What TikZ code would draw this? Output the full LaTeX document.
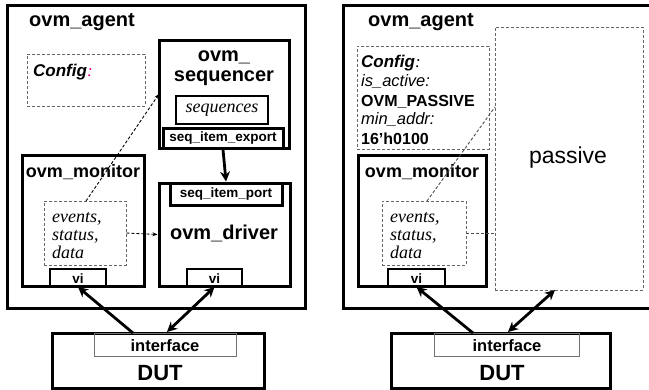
\documentclass[tikz,border=0pt]{standalone}
\usepackage{fontspec}
\setmainfont{Liberation Serif}
\setsansfont{Liberation Sans}
\usetikzlibrary{arrows.meta}
\begin{document}
\begin{tikzpicture}[x=1pt,y=-1pt,
  box/.style={draw, line width=3pt, inner sep=0pt, rectangle},
  midbox/.style={draw, line width=2pt, inner sep=0pt, rectangle},
  dbox/.style={draw=black!60, line width=0.8pt, dash pattern=on 3pt off 2pt, inner sep=0pt, rectangle},
  ibox/.style={draw=black!55, line width=0.8pt, inner sep=0pt, rectangle},
  txt/.style={inner sep=0pt},
  ttl/.style={txt, font=\sffamily\bfseries\fontsize{20}{22}\selectfont},
  small/.style={txt, font=\sffamily\bfseries\fontsize{13.5}{15}\selectfont},
  cfg/.style={txt, anchor=west, font=\sffamily\bfseries\itshape\fontsize{17}{19}\selectfont},
  cfgi/.style={txt, anchor=west, font=\sffamily\itshape\fontsize{16.5}{19}\selectfont},
  cfgb/.style={txt, anchor=west, font=\sffamily\bfseries\fontsize{16}{19}\selectfont},
  ital/.style={txt, anchor=west, align=left, font=\itshape\fontsize{18}{18}\selectfont},
  bigarrow/.style={line width=2.8pt, -{Stealth[length=10pt,width=10pt]}},
  bigdarrow/.style={line width=2.8pt, {Stealth[length=10pt,width=10pt]}-{Stealth[length=10pt,width=10pt]}},
  darrow/.style={line width=0.9pt, dash pattern=on 3pt off 2pt, -{Stealth[length=5pt,width=4pt]}},
  dline/.style={line width=0.9pt, black!70, dash pattern=on 3pt off 2pt}
]
\useasboundingbox (0,0) rectangle (649,389);
\clip (0,0) rectangle (649,389);

% ================= LEFT (active agent) =================
\node[box, minimum width=298pt, minimum height=303pt] (agL) at (156,156.5) {};
\node[ttl] (agLt) at (82,22) {ovm\_agent};

\node[dbox, minimum width=118pt, minimum height=52pt] (cfgL) at (86,80) {};
\node[cfg] (cfgLt) at (33,72) {Config\textcolor{magenta}{\normalfont\itshape :}};

\node[box, minimum width=130pt, minimum height=108pt] (seq) at (224,94) {};
\node[ttl] (seqt1) at (224,57) {ovm\_};
\node[ttl] (seqt2) at (224,78) {sequencer};
\node[midbox, minimum width=92pt, minimum height=28pt] (seqs) at (222,110) {};
\node[txt, font=\itshape\fontsize{18}{18}\selectfont] (seqst) at (222,110) {sequences};
\node[box, minimum width=120pt, minimum height=20pt] (exp) at (223,138) {};
\node[small] (expt) at (223,138) {seq\_item\_export};

\node[box, minimum width=122pt, minimum height=131pt] (monL) at (83,220.5) {};
\node[ttl, font=\sffamily\bfseries\fontsize{18}{20}\selectfont] (monLt) at (83,172) {ovm\_monitor};
\node[dbox, minimum width=82pt, minimum height=64pt] (evL) at (85,233) {};
\node[ital] (evLt) at (52,236) {events,\\status,\\data};
\node[midbox, minimum width=56pt, minimum height=17pt] (viML) at (78,277.5) {};
\node[small] (viMLt) at (78,279) {vi};

\node[box, minimum width=131pt, minimum height=103pt] (drv) at (224.5,234.5) {};
\node[box, minimum width=112pt, minimum height=22pt] (port) at (226,194) {};
\node[small] (portt) at (226,194) {seq\_item\_port};
\node[ttl] (drvt) at (224,233) {ovm\_driver};
\node[midbox, minimum width=55pt, minimum height=17pt] (viD) at (214.5,277.5) {};
\node[small] (viDt) at (214.5,279) {vi};

\node[box, minimum width=212pt, minimum height=55pt] (dutL) at (158,360.5) {};
\node[ibox, minimum width=142pt, minimum height=23pt] (ifL) at (165,344.5) {};
\node[txt, font=\sffamily\bfseries\fontsize{16.5}{18}\selectfont] (ifLt) at (165,346) {interface};
\node[txt, font=\sffamily\bfseries\fontsize{22}{24}\selectfont] (dutLt) at (160,373) {DUT};

\coordinate (seqIn) at (159,94);
\draw[bigarrow] (exp.south) -- (port.north);
\draw[darrow] (evL.east) -- (drv.west);
\draw[darrow] (86,201) coordinate (evLtop) -- (seqIn);
\coordinate (dutLa) at (133,333);
\coordinate (dutLb) at (167,332);
\draw[bigarrow] (dutLa) -- (viML.south);
\draw[bigdarrow] (dutLb) -- (viD.south);

% ================= RIGHT (passive agent) =================
\node[box, minimum width=330pt, minimum height=303pt] (agR) at (508,156.5) {};
\node[ttl] (agRt) at (421,22) {ovm\_agent};

\node[dbox, minimum width=132pt, minimum height=103pt] (cfgR) at (423,97.5) {};
\node[cfg] (cfgRt) at (361,63) {Config\normalfont\itshape:};
\node[cfgi] (actt) at (361,82) {is\_active:};
\node[cfgb] (pasv) at (361,102) {OVM\_PASSIVE};
\node[cfgi] (mint) at (361,120) {min\_addr:};
\node[cfgb] (addr) at (361,139) {16’h0100};

\node[dbox, minimum width=148pt, minimum height=263pt] (pas) at (569,158.5) {};
\node[txt, font=\sffamily\fontsize{23}{25}\selectfont] (past) at (568,158) {passive};

\node[box, minimum width=128pt, minimum height=131pt] (monR) at (422,220.5) {};
\node[ttl, font=\sffamily\bfseries\fontsize{18}{20}\selectfont] (monRt) at (422,172) {ovm\_monitor};
\node[dbox, minimum width=84pt, minimum height=64pt] (evR) at (424,233) {};
\node[ital] (evRt) at (390,236) {events,\\status,\\data};
\node[midbox, minimum width=57pt, minimum height=17pt] (viR) at (416.5,277.5) {};
\node[small] (viRt) at (416.5,279) {vi};

\node[box, minimum width=219pt, minimum height=55pt] (dutR) at (500.5,360.5) {};
\node[ibox, minimum width=145pt, minimum height=23pt] (ifR) at (506.5,344.5) {};
\node[txt, font=\sffamily\bfseries\fontsize{16.5}{18}\selectfont] (ifRt) at (507,346) {interface};
\node[txt, font=\sffamily\bfseries\fontsize{22}{24}\selectfont] (dutRt) at (502,373) {DUT};

\coordinate (pasCfg) at (495,107);
\draw[dline] (evR.east) -- (pas.west |- evR.east);
\draw[dline] (427,201) coordinate (evRtop) -- (pasCfg);
\coordinate (dutRa) at (473,333);
\coordinate (dutRb) at (508,332);
\coordinate (pasBot) at (555,290);
\draw[bigarrow] (dutRa) -- (viR.south);
\draw[bigdarrow] (dutRb) -- (pasBot);
\end{tikzpicture}
\end{document}
